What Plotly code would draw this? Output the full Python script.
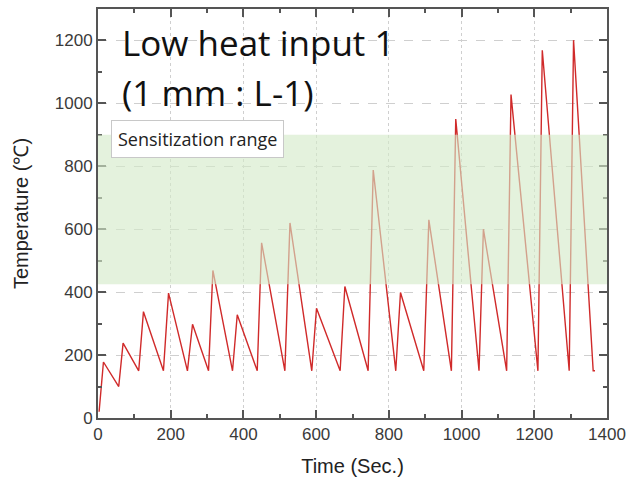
import plotly.graph_objects as go

time_s = [3, 15, 57, 69, 112, 125, 180, 194, 246, 260, 304, 316, 370, 383, 438, 450,
          514, 528, 588, 601, 666, 679, 743, 757, 819, 832, 896, 910, 972, 984,
          1048, 1060, 1124, 1136, 1210, 1222, 1296, 1308, 1362, 1367]
temp_c = [20, 178, 100, 238, 150, 338, 150, 397, 150, 298, 150, 469, 150, 328, 150, 557,
          150, 620, 150, 349, 150, 418, 150, 788, 150, 399, 150, 630, 150, 950,
          150, 600, 150, 1028, 150, 1169, 150, 1201, 150, 150]

band_low, band_high = 425, 900
x_ticks = [0, 200, 400, 600, 800, 1000, 1200, 1400]
y_ticks = [0, 200, 400, 600, 800, 1000, 1200]

fig = go.Figure()
fig.add_trace(go.Scatter(x=time_s, y=temp_c, mode="lines",
                         line=dict(color="#d02a2a", width=1.4), showlegend=False))

fig.add_shape(type="rect", xref="x", yref="y", x0=0, x1=1400, y0=band_low, y1=band_high,
              fillcolor="rgba(212,234,200,0.62)", line=dict(width=0), layer="above")

tick_font = dict(family="Liberation Sans, Arial", size=17, color="#3a3a3a")
title_font = dict(family="Liberation Sans, Arial", size=20, color="#222222")

def axis_style(griddash):
    return dict(showline=True, linecolor="#555555", linewidth=2, mirror="ticks",
                ticks="inside", ticklen=8, tickwidth=2, tickcolor="#555555",
                showgrid=True, gridcolor="#cfcfcf", griddash=griddash, gridwidth=1,
                zeroline=False, automargin=False, tickfont=tick_font,
                minor=dict(ticks="inside", ticklen=4, tickwidth=2, tickcolor="#555555",
                           showgrid=False, dtick=100))

fig.update_xaxes(range=[0, 1400], tickvals=x_ticks,
                 title=dict(text="Time (Sec.)", font=title_font, standoff=16),
                 **axis_style("dot"))
fig.update_yaxes(range=[0, 1300], tickvals=y_ticks,
                 title=dict(text="Temperature (℃)", font=title_font, standoff=21),
                 **axis_style("dash"))

fig.add_annotation(text="Low heat input 1", xref="paper", yref="paper", x=0.043, y=0.918,
                   xanchor="left", yanchor="middle", showarrow=False,
                   font=dict(family="Open Sans", size=35, color="#111111"))
fig.add_annotation(text="(1 mm : L-1)", xref="paper", yref="paper", x=0.043, y=0.795,
                   xanchor="left", yanchor="middle", showarrow=False,
                   font=dict(family="Open Sans", size=35, color="#111111"))
fig.add_annotation(text="Sensitization range", xref="paper", yref="paper", x=0.025, y=0.682,
                   xanchor="left", yanchor="middle", showarrow=False,
                   bgcolor="white", bordercolor="#c8c8c8", borderwidth=1, borderpad=6,
                   font=dict(family="Open Sans", size=18, color="#222222"))

fig.update_layout(width=627, height=482, margin=dict(l=98, r=20, t=9, b=64),
                  paper_bgcolor="white", plot_bgcolor="white")

fig.write_html("out.html")
